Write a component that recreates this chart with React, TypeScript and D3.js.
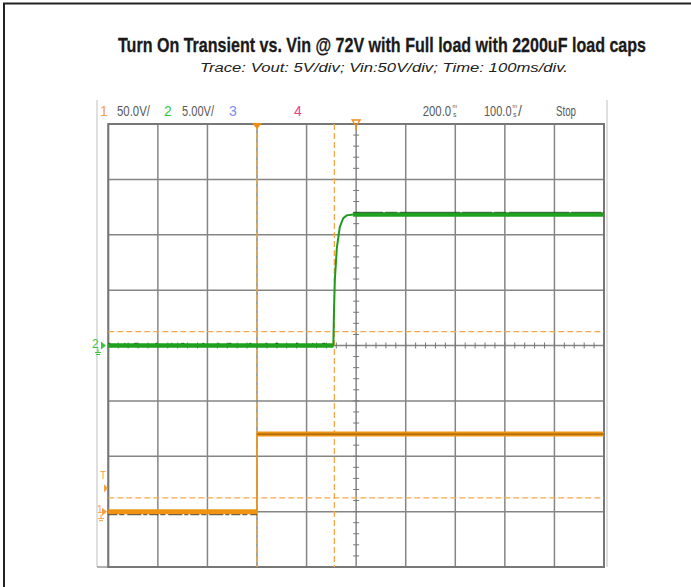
import React from "react";
import * as d3 from "d3";

// ---- data ----
const voutTime = [0, 454, 455, 457, 461, 467, 474, 481, 494, 1000]; // ms
const voutVal = [0, 0, 2.5, 5.9, 8.8, 10.7, 11.5, 11.75, 11.83, 11.83]; // V
const vinTime = [0, 300, 300, 1000]; // ms
const vinVal = [0, 0, 70, 70]; // V
const timeCursors = [300, 456]; // ms
const vinCursors = [12.5, 162.5]; // V (ch1)
const trigLevel = 21; // V (ch1)

const headerLeft = [
  { t: "1", c: "#f5a040", x: 100 },
  { t: "50.0V/", c: "#5a5a5a", x: 117, w: 33 },
  { t: "2", c: "#3cc83c", x: 164 },
  { t: "5.00V/", c: "#5a5a5a", x: 182, w: 32 },
  { t: "3", c: "#7b8cf0", x: 229 },
  { t: "4", c: "#e8408c", x: 294 },
];

const W = 691, H = 587;
const L = 108.3, R = 604, T = 124, B = 567;

export default function App() {
  const x = d3.scaleLinear().domain([0, 1000]).range([L, R]);
  const y2 = d3.scaleLinear().domain([-20, 20]).range([B, T]); // Vout 5V/div
  const y1 = d3.scaleLinear().domain([-50, 350]).range([B, T]); // Vin 50V/div
  const xDiv = (R - L) / 10, yDiv = (B - T) / 8;
  const xc = x(500), yc = y2(0);

  const line2 = d3.line<number>().x((_, i) => x(voutTime[i])).y((v) => y2(v));
  const line1 = d3.line<number>().x((_, i) => x(vinTime[i])).y((v) => y1(v));

  const flatSegs = (ts: number[], vs: number[]) => {
    const s: [number, number, number][] = [];
    for (let i = 0; i < ts.length - 1; i++) if (vs[i] === vs[i + 1] && ts[i] !== ts[i + 1]) s.push([ts[i], ts[i + 1], vs[i]]);
    return s;
  };

  const grid = [];
  for (let i = 0; i <= 10; i++) grid.push(<line key={"v" + i} x1={L + i * xDiv} x2={L + i * xDiv} y1={T} y2={B} stroke="#858585" strokeWidth={1.5} />);
  for (let j = 0; j <= 8; j++) grid.push(<line key={"h" + j} x1={L} x2={R} y1={T + j * yDiv} y2={T + j * yDiv} stroke="#858585" strokeWidth={1.5} />);
  const ticks = [];
  for (let i = 0; i <= 40; i++) {
    const yy = T + (i * yDiv) / 5;
    ticks.push(<line key={"ty" + i} x1={xc - 3} x2={xc + 3} y1={yy} y2={yy} stroke="#777" strokeWidth={1} />);
  }
  for (let i = 0; i <= 50; i++) {
    const xx = L + (i * xDiv) / 5;
    ticks.push(<line key={"tx" + i} x1={xx} x2={xx} y1={yc - 3} y2={yc + 3} stroke="#777" strokeWidth={1} />);
  }

  const hdrFont = "'Liberation Sans', Arial, sans-serif";

  return (
    <svg width={W} height={H} style={{ position: "absolute", left: 0, top: 0, background: "#fff" }}>
      {/* page border */}
      <line x1={3} x2={691} y1={3.5} y2={3.5} stroke="#222" strokeWidth={2} />
      <line x1={4} x2={4} y1={3} y2={587} stroke="#222" strokeWidth={2} />

      {/* titles */}
      <text x={118} y={52} fontFamily={hdrFont} fontWeight="bold" fontSize={21} fill="#1a1a1a" stroke="#1a1a1a" strokeWidth={0.3} textLength={528} lengthAdjust="spacingAndGlyphs">
        Turn On Transient vs. Vin  @ 72V with Full load with 2200uF load caps
      </text>
      <text x={200} y={72} fontFamily={hdrFont} fontStyle="italic" fontSize={12.5} fill="#222" textLength={368} lengthAdjust="spacingAndGlyphs">
        Trace: Vout: 5V/div; Vin:50V/div; Time: 100ms/div.
      </text>

      {/* scope frame */}
      <line x1={97} x2={97} y1={100} y2={567} stroke="#d4d4d4" strokeWidth={1.5} />
      <line x1={607} x2={607} y1={100} y2={567} stroke="#d4d4d4" strokeWidth={1.5} />
      <line x1={97} x2={L} y1={B} y2={B} stroke="#999" strokeWidth={1.5} />

      {/* header */}
      {headerLeft.map((h, i) => (
        <text key={i} x={h.x} y={116} fontFamily={hdrFont} fontSize={14} fill={h.c} textLength={h.w} lengthAdjust={h.w ? "spacingAndGlyphs" : undefined}>
          {h.t}
        </text>
      ))}
      <text x={422.7} y={116} fontFamily={hdrFont} fontSize={14} fill="#5a5a5a" textLength={28.5} lengthAdjust="spacingAndGlyphs">200.0</text>
      <text x={452.5} y={108} fontFamily={hdrFont} fontSize={5.5} fill="#5a5a5a">m</text>
      <text x={453} y={116.5} fontFamily={hdrFont} fontSize={7} fill="#5a5a5a">s</text>
      <text x={484} y={116} fontFamily={hdrFont} fontSize={14} fill="#5a5a5a" textLength={27.5} lengthAdjust="spacingAndGlyphs">100.0</text>
      <text x={512.5} y={108} fontFamily={hdrFont} fontSize={5.5} fill="#5a5a5a">m</text>
      <text x={513} y={116.5} fontFamily={hdrFont} fontSize={7} fill="#5a5a5a">s</text>
      <text x={518} y={116} fontFamily={hdrFont} fontSize={14} fill="#5a5a5a">/</text>
      <text x={556} y={116} fontFamily={hdrFont} fontSize={14} fill="#5a5a5a" textLength={20} lengthAdjust="spacingAndGlyphs">Stop</text>

      {/* grid */}
      {grid}
      <rect x={L} y={T} width={R - L} height={B - T} fill="none" stroke="#777" strokeWidth={2} />
      {ticks}

      {/* cursors */}
      {vinCursors.map((v, i) => (
        <line key={"hc" + i} x1={L} x2={R} y1={y1(v)} y2={y1(v)} stroke="#f7a84a" strokeWidth={1.3} strokeDasharray="6 3" />
      ))}
      {timeCursors.map((t, i) => (
        <line key={"vc" + i} x1={x(t)} x2={x(t)} y1={T} y2={B} stroke="#f7a84a" strokeWidth={1.3} strokeDasharray="6 3" />
      ))}

      {/* Vin trace (ch1) */}
      <path d={line1(vinVal) || ""} fill="none" stroke="#ee9412" strokeWidth={1.5} />
      {flatSegs(vinTime, vinVal).map((s, i) => (
        <g key={"f1" + i}>
          <line x1={x(s[0])} x2={x(s[1])} y1={y1(s[2])} y2={y1(s[2])} stroke="#ee9412" strokeWidth={5} />
          <line x1={x(s[0])} x2={x(s[1])} y1={y1(s[2]) + (s[2] === 0 ? 3 : 0)} y2={y1(s[2]) + (s[2] === 0 ? 3 : 0)} stroke="#3a2a10" strokeWidth={s[2] === 0 ? 1.2 : 0.8} strokeDasharray={s[2] === 0 ? "9 2 5 3 14 2 4 2" : "none"} opacity={0.7} />
        </g>
      ))}

      {/* Vout trace (ch2) */}
      <path d={line2(voutVal) || ""} fill="none" stroke="#1f9a1f" strokeWidth={2} />
      {flatSegs(voutTime, voutVal).map((s, i) => (
        <g key={"f2" + i}>
          <line x1={x(s[0])} x2={x(s[1])} y1={y2(s[2])} y2={y2(s[2])} stroke="#1fa01f" strokeWidth={4.5} />
          <line x1={x(s[0])} x2={x(s[1])} y1={y2(s[2]) - 2.2} y2={y2(s[2]) - 2.2} stroke="#1a3a1a" strokeWidth={1} strokeDasharray={s[2] === 0 ? "2 14 1 9 3 18" : "30 2 12 3 60 2"} opacity={0.7} />
        </g>
      ))}

      {/* top markers */}
      <path d={`M${x(300) - 5},${T - 1} L${x(300) + 5},${T - 1} L${x(300)},${T + 5} Z`} fill="#f08c10" />
      <path d={`M${xc - 4},${T - 4} L${xc + 4},${T - 4} L${xc},${T + 2} Z M${xc},${T + 2} L${xc},${T + 6}`} fill="none" stroke="#f08c10" strokeWidth={1.3} />

      {/* left markers */}
      <text x={92} y={y2(0) + 2} fontFamily={hdrFont} fontSize={12} fill="#3cc83c">2</text>
      <path d={`M${101},${y2(0) - 4} L${106},${y2(0)} L${101},${y2(0) + 4} Z`} fill="#3cc83c" />
      <path d={`M${98},${y2(0) + 3} L${98},${y2(0) + 7} M${95},${y2(0) + 7} L${101},${y2(0) + 7} M${96},${y2(0) + 9} L${100},${y2(0) + 9}`} stroke="#3cc83c" strokeWidth={1} />

      <text x={100} y={y1(trigLevel) - 9} fontFamily={hdrFont} fontSize={10} fill="#f5a040">T</text>
      <path d={`M${104},${y1(trigLevel) - 4} L${108},${y1(trigLevel)} L${104},${y1(trigLevel) + 4} Z`} fill="#f5a040" />

      <text x={97} y={y1(0) + 1} fontFamily={hdrFont} fontSize={10} fill="#f5a040">1</text>
      <path d={`M${102},${y1(0) - 4} L${107},${y1(0)} L${102},${y1(0) + 4} Z`} fill="#f5a040" />
      <path d={`M${101},${y1(0) + 3} L${101},${y1(0) + 7} M${98},${y1(0) + 7} L${104},${y1(0) + 7} M${99},${y1(0) + 9} L${103},${y1(0) + 9}`} stroke="#f5a040" strokeWidth={1} />
    </svg>
  );
}
